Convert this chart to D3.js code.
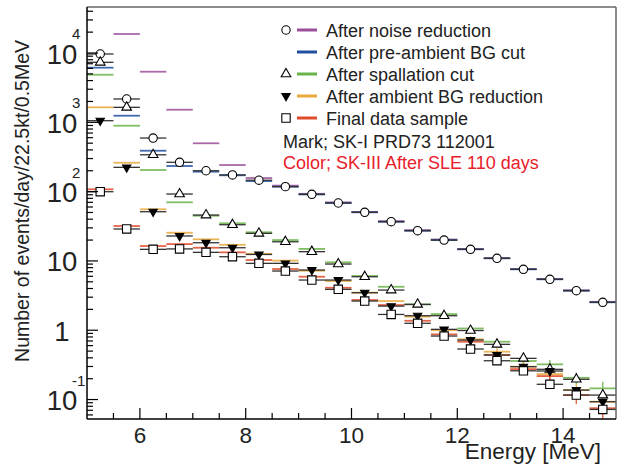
<!DOCTYPE html>
<html>
<head>
<meta charset="utf-8">
<script src="https://cdn.jsdelivr.net/npm/d3@7"></script>
<style>
  body { margin: 0; background: #fff; }
  text { font-family: "Liberation Sans", Arial, sans-serif; }
</style>
</head>
<body>
<div id="chart"></div>
<script>
// bin centres (0.5 MeV bins)
var energy = [5.25, 5.75, 6.25, 6.75, 7.25, 7.75, 8.25, 8.75, 9.25, 9.75,
  10.25, 10.75, 11.25, 11.75, 12.25, 12.75, 13.25, 13.75, 14.25, 14.75];

// SK-I marks
var skINoise = [9680, 2170, 593, 265, 200, 174, 146, 118, 91.4, 68.5, 50.3, 36.8, 27.3, 20.0, 14.7, 10.9, 7.57, 5.43, 3.72, 2.53];
var skISpall = [7340, 1645, 340, 92.3, 45.9, 33.3, 25.0, 18.9, 13.6, 9.02, 5.92, 3.80, 2.36, 1.62, 0.99, 0.626, 0.393, 0.273, 0.196, 0.116];
var skIAmb = [1055, 224, 51.3, 22.9, 18.3, 15.5, 12.4, 9.23, 7.39, 5.30, 3.48, 2.23, 1.62, 1.03, 0.722, 0.439, 0.298, 0.258, 0.137, 0.093];
var skIFinal = [99.7, 28.9, 14.7, 14.9, 13.3, 11.5, 9.23, 7.15, 5.30, 3.89, 2.64, 1.69, 1.26, 0.825, 0.536, 0.363, 0.26, 0.166, 0.116, 0.072];

// SK-III colours (null = off scale)
var sk3Noise = [null, 18800, 5370, 1520, 498, 242, 157, 122, 93, 70, 51, 37.5, 27.8, 20.4, 14.9, 11.0, 7.65, 5.5, 3.78, 2.57];
var sk3PreAmb = [6140, 1245, 389, 234, 194, 172, 142, 118, 91, 68.5, 50.3, 36.8, 27.3, 20.0, 14.7, 10.9, 7.57, 5.43, 3.72, 2.53];
var sk3Spall = [4860, 893, 205, 70.1, 44.9, 34.9, 25.9, 20.0, 14.9, 9.55, 6.06, 4.24, 2.36, 1.71, 1.06, 0.683, 0.36, 0.322, 0.206, 0.145];
var sk3Amb = [1645, 261, 55.6, 25.5, 20.5, 17.1, 12.7, 10.1, 7.22, 5.13, 3.48, 2.64, 1.57, 1.0, 0.74, 0.49, 0.298, 0.233, 0.137, 0.093];
var sk3Final = [108, 31.9, 16.4, 17.5, 15.5, 13.3, 10.3, 7.64, 5.92, 4.10, 2.73, 2.31, 1.37, 0.873, 0.683, 0.439, 0.275, 0.218, 0.116, 0.075];

// SK-III vertical errors (visible only at high energy)
var sk3SpallErr = [0, 0, 0, 0, 0, 0, 0, 0, 0, 0, 0, 0, 0.14, 0.1, 0.09, 0.07, 0.05, 0.05, 0.04, 0.035];
var sk3AmbErr = [0, 0, 0, 0, 0, 0, 0, 0, 0, 0, 0, 0, 0.12, 0.09, 0.08, 0.06, 0.05, 0.05, 0.03, 0.025];
var sk3FinalErr = [0, 0, 0, 0, 0, 0, 0, 0, 0, 0, 0, 0, 0.12, 0.09, 0.08, 0.06, 0.05, 0.06, 0.03, 0.025];

var legendLabels = ["After noise reduction", "After pre-ambient BG cut", "After spallation cut",
  "After ambient BG reduction", "Final data sample"];
var colors = ["#9b4f9b", "#1f4fa0", "#6ab34a", "#e8a83a", "#e04a2a"];
var xTicks = [6, 8, 10, 12, 14];

var W = 622, H = 465;
var pLeft = 87, pRight = 616, pTop = 7, pBottom = 419;

var svg = d3.select("#chart").append("svg").attr("width", W).attr("height", H);

var x = d3.scaleLinear().domain([5, 15]).range([pLeft, pRight]);
var y = d3.scaleLog().domain([0.0524, 46100]).range([pBottom, pTop]);

svg.append("clipPath").attr("id", "clip")
  .append("rect").attr("x", pLeft).attr("y", pTop).attr("width", pRight - pLeft).attr("height", pBottom - pTop);

var plot = svg.append("g").attr("clip-path", "url(#clip)");

// colour lines (SK-III)
var colourSeries = [
  { vals: sk3Noise, err: null, c: colors[0] },
  { vals: sk3PreAmb, err: null, c: colors[1] },
  { vals: sk3Spall, err: sk3SpallErr, c: colors[2] },
  { vals: sk3Amb, err: sk3AmbErr, c: colors[3] },
  { vals: sk3Final, err: sk3FinalErr, c: colors[4] }
];

colourSeries.forEach(function (s) {
  var pts = energy.map(function (e, i) { return { e: e, v: s.vals[i], er: s.err ? s.err[i] : 0 }; })
    .filter(function (d) { return d.v != null; });
  var g = plot.append("g").attr("stroke", s.c).attr("opacity", 0.85);
  g.selectAll("line.h").data(pts).join("line").attr("class", "h")
    .attr("x1", function (d) { return x(d.e - 0.25); })
    .attr("x2", function (d) { return x(d.e + 0.25); })
    .attr("y1", function (d) { return y(d.v); })
    .attr("y2", function (d) { return y(d.v); })
    .attr("stroke-width", 1.8);
  g.selectAll("line.v").data(pts.filter(function (d) { return d.er > 0; })).join("line").attr("class", "v")
    .attr("x1", function (d) { return x(d.e); })
    .attr("x2", function (d) { return x(d.e); })
    .attr("y1", function (d) { return y(d.v + d.er); })
    .attr("y2", function (d) { return y(Math.max(d.v - d.er, 0.01)); })
    .attr("stroke-width", 1.4);
});

// SK-I marks
var markSeries = [
  { vals: skINoise, sym: d3.symbolCircle, size: 55, fill: "#fff" },
  { vals: skISpall, sym: d3.symbolTriangle, size: 40, fill: "#fff" },
  { vals: skIAmb, sym: d3.symbolTriangle, size: 30, fill: "#000", flip: true },
  { vals: skIFinal, sym: d3.symbolSquare, size: 70, fill: "#fff" }
];

markSeries.forEach(function (s) {
  var pts = energy.map(function (e, i) { return { e: e, v: s.vals[i] }; });
  var g = plot.append("g");
  g.selectAll("line").data(pts).join("line")
    .attr("x1", function (d) { return x(d.e - 0.25); })
    .attr("x2", function (d) { return x(d.e + 0.25); })
    .attr("y1", function (d) { return y(d.v); })
    .attr("y2", function (d) { return y(d.v); })
    .attr("stroke", "#333").attr("stroke-width", 1.3);
  g.selectAll("path").data(pts).join("path")
    .attr("d", d3.symbol().type(s.sym).size(s.size))
    .attr("transform", function (d) {
      return "translate(" + x(d.e) + "," + y(d.v) + ")" + (s.flip ? " rotate(180)" : "");
    })
    .attr("fill", s.fill).attr("stroke", "#000").attr("stroke-width", 1.1);
});

// frame
svg.append("line").attr("x1", pLeft).attr("x2", pRight).attr("y1", pTop).attr("y2", pTop)
  .attr("stroke", "#666").attr("stroke-width", 1.5);
svg.append("line").attr("x1", pRight).attr("x2", pRight).attr("y1", pTop).attr("y2", pBottom)
  .attr("stroke", "#666").attr("stroke-width", 1.5);
svg.append("line").attr("x1", pLeft).attr("x2", pRight).attr("y1", pBottom).attr("y2", pBottom)
  .attr("stroke", "#000").attr("stroke-width", 1.5);
svg.append("line").attr("x1", pLeft).attr("x2", pLeft).attr("y1", pTop).attr("y2", pBottom)
  .attr("stroke", "#000").attr("stroke-width", 1.5);

// x ticks
var xAxis = svg.append("g");
for (var t = 5.5; t < 15; t += 0.5) {
  var major = xTicks.indexOf(t) >= 0;
  xAxis.append("line").attr("x1", x(t)).attr("x2", x(t))
    .attr("y1", pBottom).attr("y2", pBottom - (major ? 11 : 6))
    .attr("stroke", "#000").attr("stroke-width", 1.2);
}
xAxis.selectAll("text").data(xTicks).join("text")
  .attr("x", function (d) { return x(d); })
  .attr("y", 443)
  .attr("text-anchor", "middle")
  .attr("font-size", 22.5)
  .attr("fill", "#222")
  .text(function (d) { return d; });

svg.append("text").attr("x", 601).attr("y", 459).attr("text-anchor", "end")
  .attr("font-size", 22.5).attr("fill", "#222").text("Energy [MeV]");

// y ticks
var yAxis = svg.append("g");
var yMin = y.domain()[0], yMax = y.domain()[1];
for (var p = -2; p <= 4; p++) {
  for (var m = 1; m <= 9; m++) {
    var v = m * Math.pow(10, p);
    if (v < yMin || v > yMax) continue;
    yAxis.append("line").attr("x1", pLeft).attr("x2", pLeft + (m === 1 ? 11 : 6))
      .attr("y1", y(v)).attr("y2", y(v))
      .attr("stroke", "#000").attr("stroke-width", 1.2);
  }
}
var yLabels = [
  { v: 1e4, base: "10", exp: "4" },
  { v: 1e3, base: "10", exp: "3" },
  { v: 1e2, base: "10", exp: "2" },
  { v: 10, base: "10", exp: "" },
  { v: 1, base: "1", exp: "" },
  { v: 0.1, base: "10", exp: "-1" }
];
yLabels.forEach(function (d) {
  yAxis.append("text").attr("x", 62).attr("y", y(d.v) + 10.5)
    .attr("text-anchor", "middle").attr("font-size", 27.5).attr("fill", "#222").text(d.base);
  if (d.exp) {
    yAxis.append("text").attr("x", 72).attr("y", y(d.v) - 14)
      .attr("font-size", 15).attr("fill", "#222").text(d.exp);
  }
});

svg.append("text")
  .attr("transform", "translate(29,40) rotate(-90)")
  .attr("text-anchor", "end")
  .attr("font-size", 19.5).attr("fill", "#222")
  .text("Number of events/day/22.5kt/0.5MeV");

// legend
var legend = svg.append("g");
var rowY = [30, 52, 74, 96, 118];
var legSyms = [
  { sym: d3.symbolCircle, size: 55, fill: "#fff" },
  null,
  { sym: d3.symbolTriangle, size: 40, fill: "#fff" },
  { sym: d3.symbolTriangle, size: 30, fill: "#000", flip: true },
  { sym: d3.symbolSquare, size: 70, fill: "#fff" }
];
legendLabels.forEach(function (lab, i) {
  var cy = rowY[i];
  legend.append("line").attr("x1", 297).attr("x2", 317).attr("y1", cy).attr("y2", cy)
    .attr("stroke", colors[i]).attr("stroke-width", 3);
  var s = legSyms[i];
  if (s) {
    legend.append("path").attr("d", d3.symbol().type(s.sym).size(s.size))
      .attr("transform", "translate(286," + cy + ")" + (s.flip ? " rotate(180)" : ""))
      .attr("fill", s.fill).attr("stroke", "#000").attr("stroke-width", 1.1);
  }
  legend.append("text").attr("x", 326).attr("y", cy + 6.5)
    .attr("font-size", 18).attr("fill", "#222").text(lab);
});
legend.append("text").attr("x", 283).attr("y", 148).attr("font-size", 18).attr("fill", "#222")
  .text("Mark; SK-I PRD73 112001");
legend.append("text").attr("x", 283).attr("y", 168.5).attr("font-size", 18).attr("fill", "#e8202a")
  .text("Color; SK-III After SLE 110 days");
</script>
</body>
</html>
